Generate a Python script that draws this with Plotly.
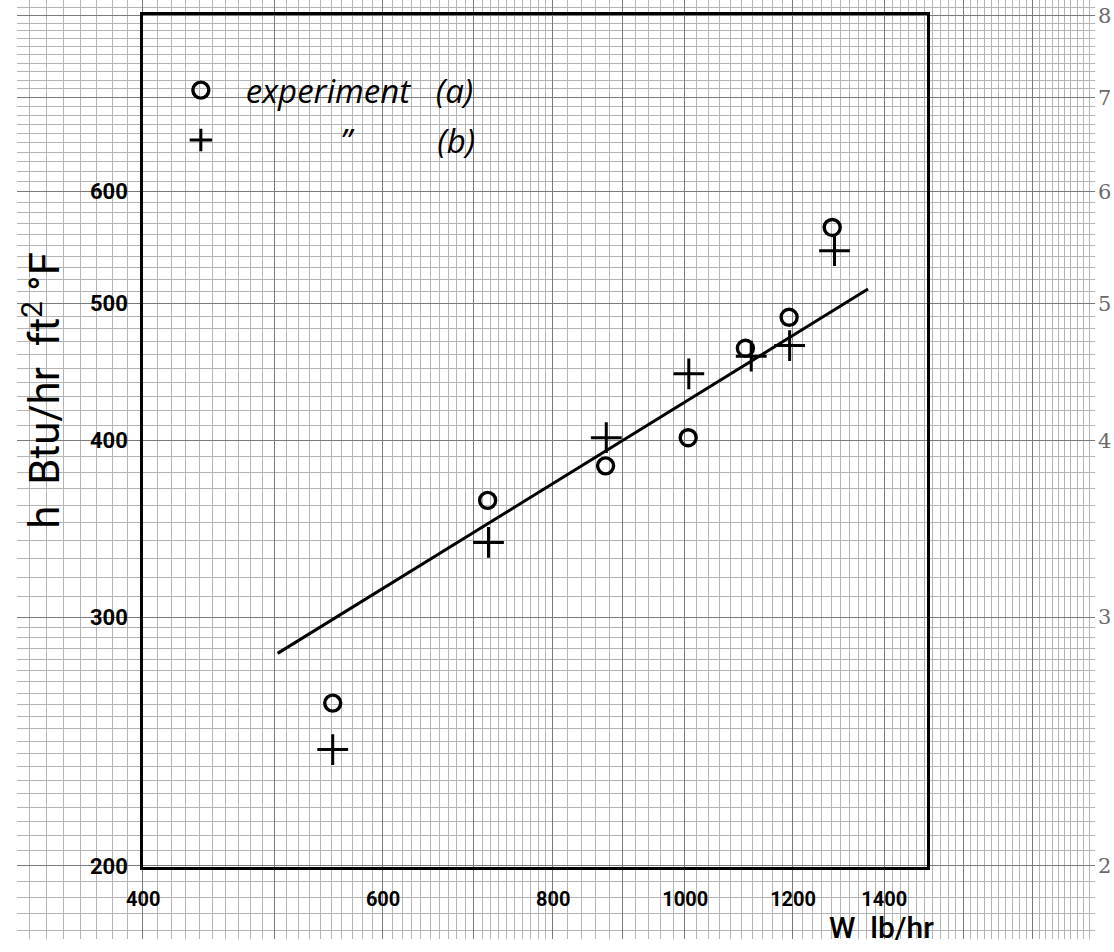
import numpy as np
import plotly.graph_objects as go

# ---- data ----
W_a = [551, 716, 874, 1005, 1107, 1192, 1282]
h_a = [261, 363, 384, 402, 465, 489, 566]
W_b = [551, 717, 875, 1006, 1118, 1193, 1287]
h_b = [242, 339, 402, 446, 459, 467, 545]
fit_W = [502, 1362]
fit_h = [283, 512]

x_tick_vals = [400, 600, 800, 1000, 1200, 1400]
y_tick_vals = [200, 300, 400, 500, 600]
paper_y_vals = [200, 300, 400, 500, 600, 700, 800]
paper_y_text = ["2", "3", "4", "5", "6", "7", "8"]

W, H = 1114, 952


def sx(x):
    return (x - 16.7) / 0.985


def sy(y):
    return (y + 1.9) / 0.99


# ---- graph paper grid (log-log) ----
px_heavy = list(range(300, 1001, 100)) + list(range(1200, 2001, 200))
px_fine = [v for v in list(range(310, 800, 10)) + list(range(800, 2001, 20)) if v not in px_heavy]
py_heavy = paper_y_vals
py_fine = [v for v in list(range(175, 300, 5)) + list(range(300, 821, 10)) if v not in py_heavy]

fig = go.Figure()

# invisible trace to create the graph-paper subplot
fig.add_trace(go.Scatter(x=[1000], y=[400], xaxis="x", yaxis="y", mode="markers",
                         marker=dict(opacity=0), showlegend=False, hoverinfo="skip"))

fig.add_trace(go.Scatter(
    x=fit_W, y=fit_h, xaxis="x2", yaxis="y2", mode="lines",
    line=dict(color="black", width=3), showlegend=False))

nb = "\u00a0"
fig.add_trace(go.Scatter(
    x=W_a, y=h_a, xaxis="x2", yaxis="y2", mode="markers", name="experiment" + nb * 3 + "(a)",
    legendgroup="a",
    marker=dict(symbol="circle-open", size=16, color="black", line=dict(width=3.4, color="black"))))

fig.add_trace(go.Scatter(
    x=W_b, y=h_b, xaxis="x2", yaxis="y2", mode="markers",
    name=nb * 11 + "\u201d" + nb * 10 + "(b)",
    legendgroup="b",
    marker=dict(symbol="cross-thin", size=22, color="black", line=dict(width=3, color="black"))))

hand = "Roboto"

fig.update_layout(
    width=W, height=H, autosize=False,
    margin=dict(l=0, r=0, t=0, b=0, pad=0),
    paper_bgcolor="white", plot_bgcolor="rgba(0,0,0,0)",
    xaxis=dict(type="log", domain=[0, sx(1095) / W], anchor="y",
               range=[np.log10(323.3), np.log10(2000)],
               tickvals=px_heavy, showticklabels=False, ticks="",
               showgrid=True, gridcolor="#7a7a7a", gridwidth=1.3,
               minor=dict(tickvals=px_fine, showgrid=True, gridcolor="#b4b4b4", gridwidth=0.9, ticks=""),
               zeroline=False, showline=False, fixedrange=True),
    yaxis=dict(type="log", domain=[0, 1], anchor="x", side="right",
               range=[np.log10(177.5), np.log10(820.3)],
               tickvals=paper_y_vals, ticktext=paper_y_text, ticks="",
               tickfont=dict(family="DejaVu Serif", size=21, color="#6a6a6a"),
               ticklabelstandoff=2,
               showgrid=True, gridcolor="#7a7a7a", gridwidth=1.3,
               minor=dict(tickvals=py_fine, showgrid=True, gridcolor="#b4b4b4", gridwidth=0.9, ticks=""),
               zeroline=False, showline=False, fixedrange=True),
    xaxis2=dict(type="log", domain=[sx(143) / W, sx(927) / W], anchor="y2",
                range=[np.log10(400), np.log10(1505)],
                tickvals=x_tick_vals, ticktext=[str(v) for v in x_tick_vals], ticks="",
                tickfont=dict(family=hand, size=20, color="black", weight="bold"),
                ticklabelstandoff=12,
                showline=True, mirror=True, linecolor="black", linewidth=3,
                showgrid=False, zeroline=False),
    yaxis2=dict(type="log", domain=[(H - sy(868)) / H, (H - sy(13)) / H], anchor="x2",
                range=[np.log10(200), np.log10(800)],
                tickvals=y_tick_vals, ticktext=[str(v) for v in y_tick_vals], ticks="",
                tickfont=dict(family=hand, size=22, color="black", weight="bold"),
                ticklabelstandoff=8,
                showline=True, mirror=True, linecolor="black", linewidth=3,
                showgrid=False, zeroline=False),
    legend=dict(x=141 / W, y=1 - 63 / H, xanchor="left", yanchor="top",
                bgcolor="rgba(0,0,0,0)", itemwidth=80, tracegroupgap=4,
                font=dict(family="Open Sans", size=33, color="black", style="italic")),
    showlegend=True,
    annotations=[
        dict(text="W" + nb * 2 + "lb/hr", x=sx(936) / W, y=1 - sy(929) / H, xref="paper", yref="paper",
             xanchor="right", yanchor="middle", showarrow=False,
             font=dict(family=hand, size=30, color="black", weight=500)),
        dict(text="h  Btu/hr  ft<sup>2</sup> °F", x=sx(42) / W, y=1 - sy(390) / H, xref="paper", yref="paper",
             xanchor="center", yanchor="middle", showarrow=False, textangle=-90,
             font=dict(family=hand, size=42, color="black")),
    ],
)

fig.write_html(
    "out.html",
    config={"displayModeBar": False},
    post_script="document.body.style.margin='0';document.body.style.overflow='hidden';",
)
